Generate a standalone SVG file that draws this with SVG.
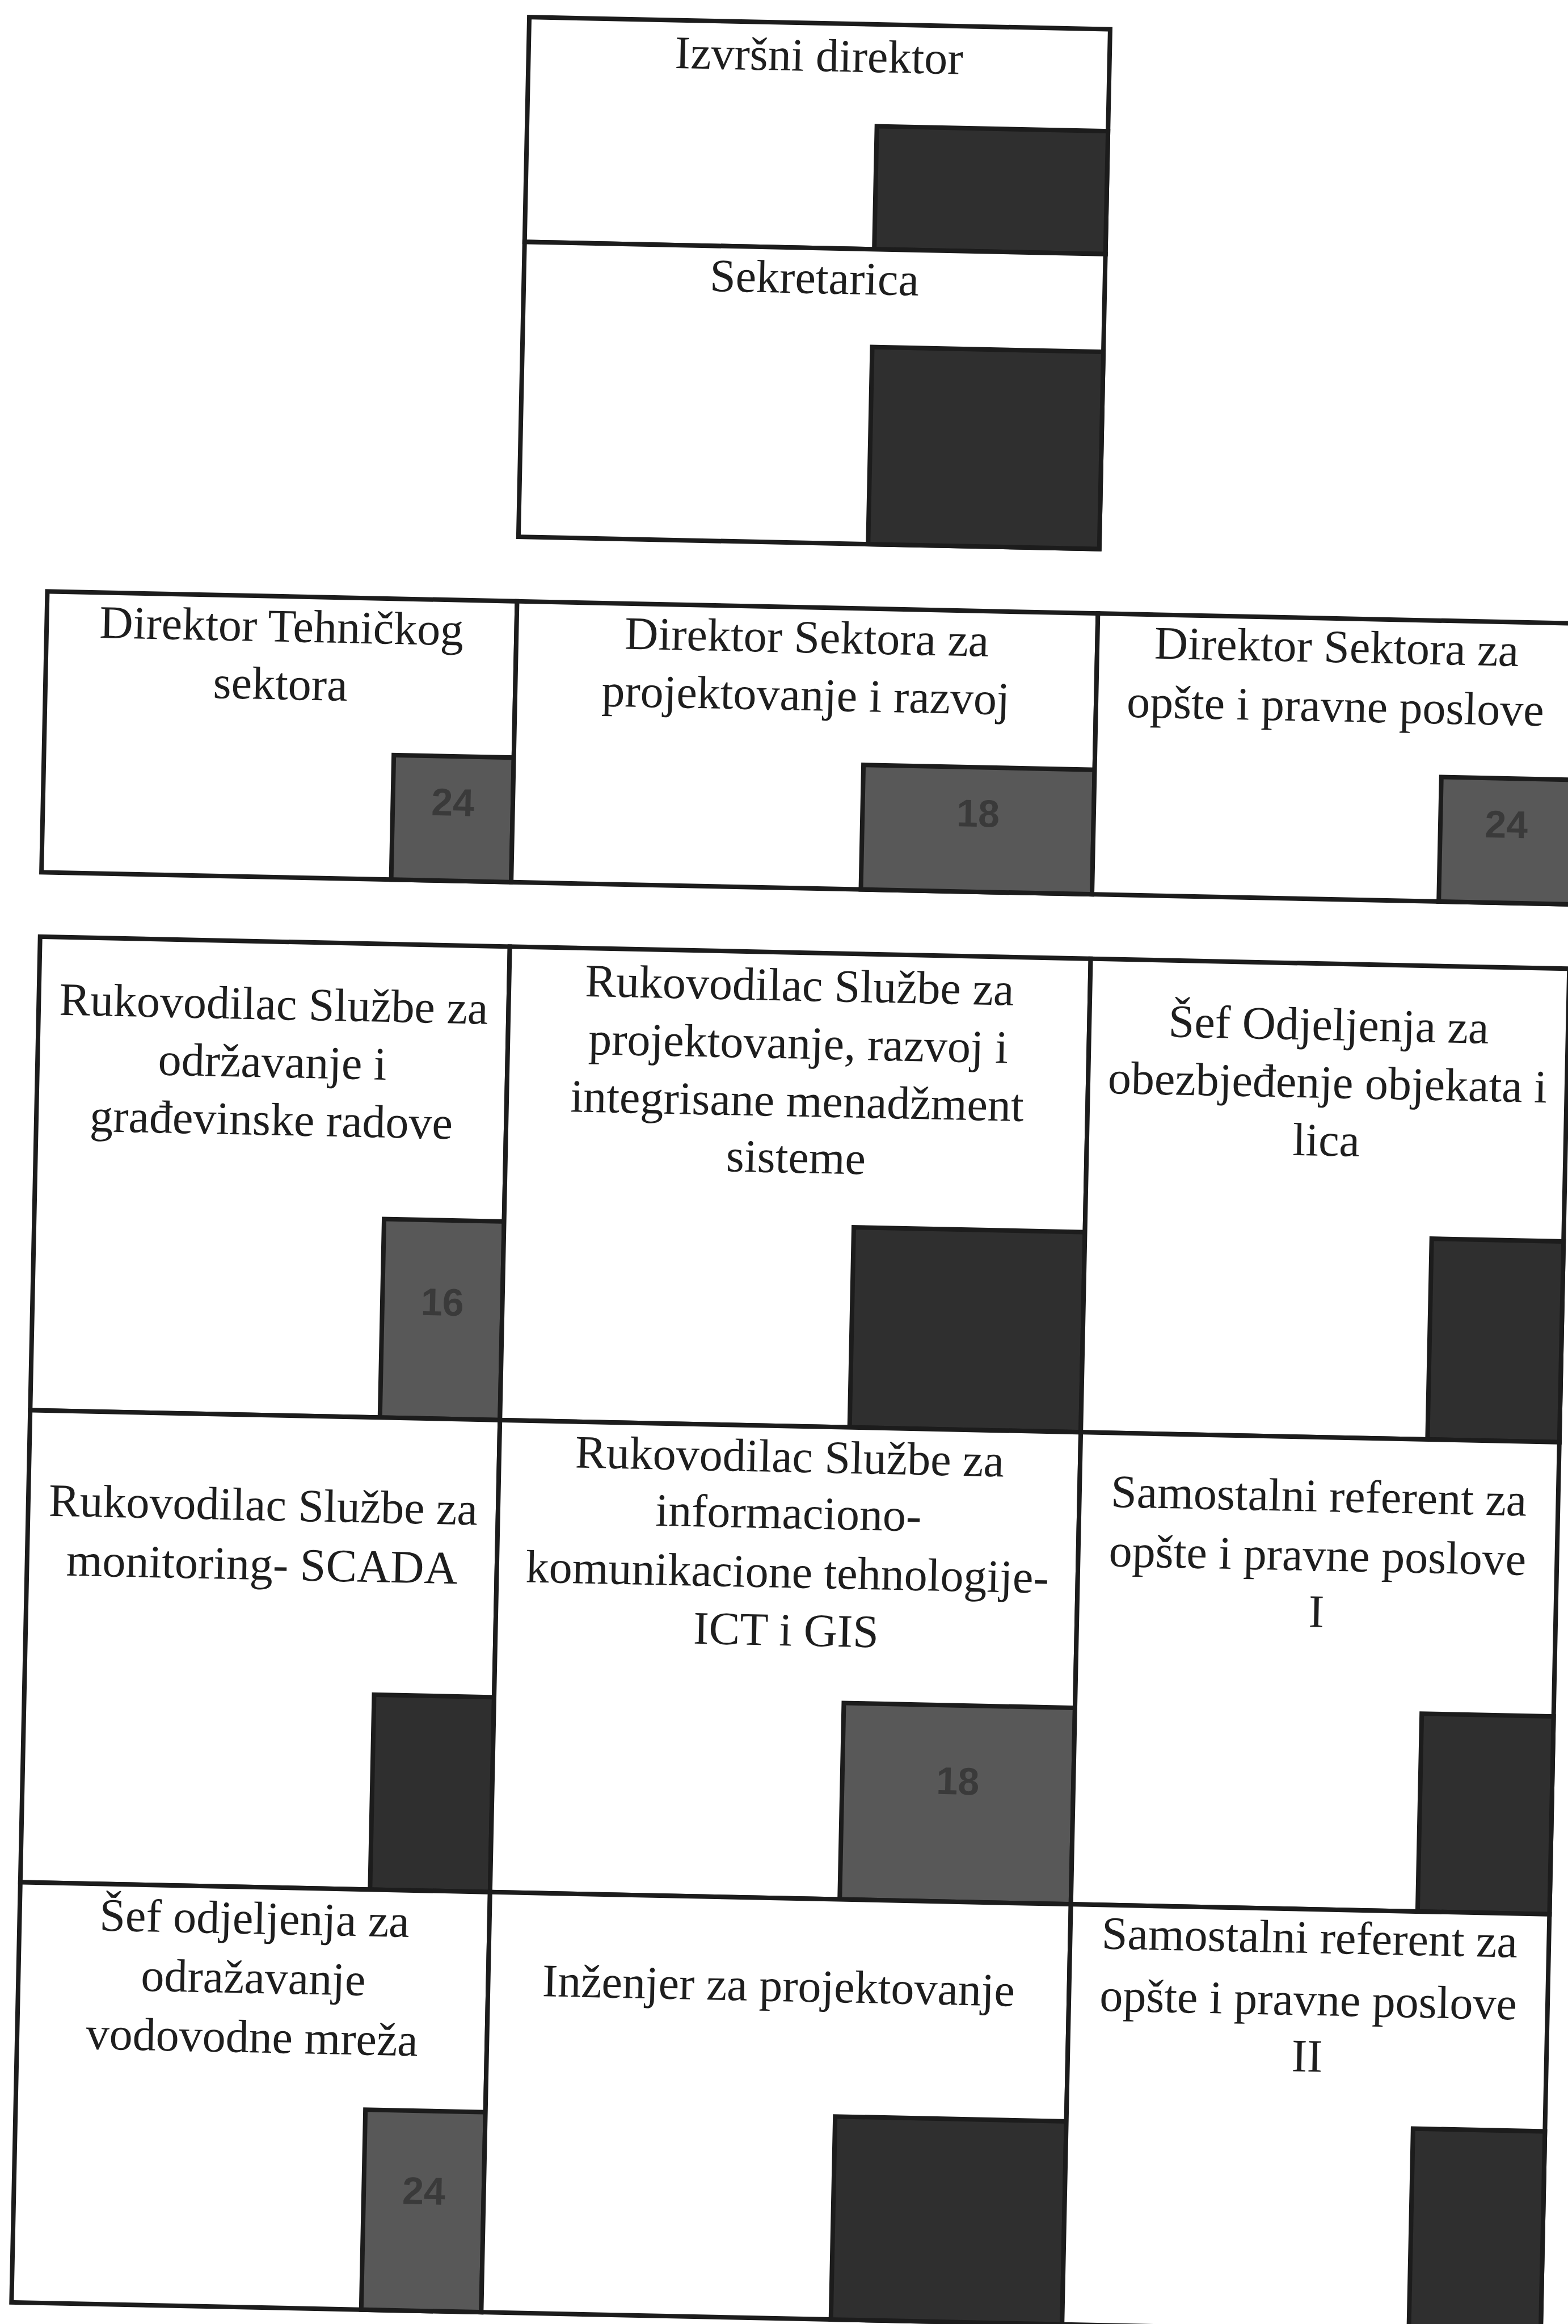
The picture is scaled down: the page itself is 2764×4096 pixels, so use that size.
<svg xmlns="http://www.w3.org/2000/svg" width="2764" height="4096" viewBox="0 0 2764 4096">
<style>
.cell{fill:#ffffff;stroke:#1c1c1c;stroke-width:8}
.dark{fill:#2f2f2f;stroke:#1c1c1c;stroke-width:8}
.gray{fill:#585858;stroke:#1c1c1c;stroke-width:8}
.t{font-family:'Liberation Serif','Times New Roman',serif;font-size:82px;fill:#1e1e1e;text-anchor:middle}
.n{font-family:'Liberation Sans',Arial,sans-serif;font-weight:bold;font-size:68px;fill:#3a3a3a;text-anchor:middle}
</style>
<rect x="0" y="0" width="2764" height="4096" fill="#ffffff"/>
<g id="chart" transform="rotate(1.2 1382 2048)">
  <g id="izvrsni-direktor">
    <rect class="cell" x="890.9" y="40" width="1024.1" height="396.3"/>
    <rect class="dark" x="1507.4" y="219.5" width="407.6" height="216.8"/>
    <text class="t" x="1402.9" y="124.4">Izvršni direktor</text>
  </g>
  <g id="sekretarica">
    <rect class="cell" x="890.9" y="436.3" width="1024.1" height="519.9"/>
    <rect class="dark" x="1507.4" y="608.7" width="407.6" height="347.5"/>
    <text class="t" x="1402.9" y="516.2">Sekretarica</text>
  </g>

  <g id="direktor-tehnickog-sektora">
    <rect class="cell" x="62.7" y="1069.8" width="828.2" height="495.1"/>
    <rect class="gray" x="679.3" y="1345.4" width="211.6" height="219.5"/>
    <text class="n" x="785.1" y="1450">24</text>
    <text class="t" x="476.8" y="1149.5">Direktor Tehničkog</text>
    <text class="t" x="476.8" y="1251.4">sektora</text>
  </g>
  <g id="direktor-sektora-projektovanje">
    <rect class="cell" x="890.9" y="1069.8" width="1024.1" height="495.1"/>
    <rect class="gray" x="1507.4" y="1345.4" width="407.6" height="219.5"/>
    <text class="n" x="1711.2" y="1450">18</text>
    <text class="t" x="1402.9" y="1149.5">Direktor Sektora za</text>
    <text class="t" x="1402.9" y="1251.4">projektovanje i razvoj</text>
  </g>
  <g id="direktor-sektora-opste">
    <rect class="cell" x="1915" y="1069.8" width="843.8" height="495.1"/>
    <rect class="gray" x="2526.3" y="1345.4" width="232.5" height="219.5"/>
    <text class="n" x="2642.5" y="1450">24</text>
    <text class="t" x="2336.9" y="1147">Direktor Sektora za</text>
    <text class="t" x="2336.9" y="1251.4">opšte i pravne poslove</text>
  </g>

  <g id="rukovodilac-odrzavanje">
    <rect class="cell" x="62.7" y="1678.5" width="828.2" height="834.7"/>
    <rect class="gray" x="679.3" y="2163.2" width="211.6" height="350"/>
    <text class="n" x="785.1" y="2331">16</text>
    <text class="t" x="476.8" y="1815.7">Rukovodilac Službe za</text>
    <text class="t" x="476.8" y="1917.6">održavanje i</text>
    <text class="t" x="476.8" y="2019.5">građevinske radove</text>
  </g>
  <g id="rukovodilac-projektovanje">
    <rect class="cell" x="890.9" y="1678.5" width="1024.1" height="834.7"/>
    <rect class="dark" x="1507.4" y="2160.5" width="407.6" height="352.7"/>
    <text class="t" x="1402.9" y="1763.4">Rukovodilac Službe za</text>
    <text class="t" x="1402.9" y="1865.3">projektovanje, razvoj i</text>
    <text class="t" x="1402.9" y="1967.2">integrisane menadžment</text>
    <text class="t" x="1402.9" y="2066.5">sisteme</text>
  </g>
  <g id="sef-obezbjedenje">
    <rect class="cell" x="1915" y="1678.5" width="843.8" height="834.7"/>
    <rect class="dark" x="2526.3" y="2159.2" width="232.5" height="354"/>
    <text class="t" x="2336.9" y="1813.1">Šef Odjeljenja za</text>
    <text class="t" x="2336.9" y="1915">obezbjeđenje objekata i</text>
    <text class="t" x="2336.9" y="2016.9">lica</text>
  </g>

  <g id="rukovodilac-scada">
    <rect class="cell" x="62.7" y="2513.2" width="828.2" height="832.1"/>
    <rect class="dark" x="679.3" y="3001.8" width="211.6" height="343.5"/>
    <text class="t" x="476.8" y="2698.7">Rukovodilac Službe za</text>
    <text class="t" x="476.8" y="2803.2">monitoring- SCADA</text>
  </g>
  <g id="rukovodilac-ict">
    <rect class="cell" x="890.9" y="2513.2" width="1024.1" height="832.1"/>
    <rect class="gray" x="1507.4" y="2999.1" width="407.6" height="346.2"/>
    <text class="n" x="1711.2" y="3156">18</text>
    <text class="t" x="1402.9" y="2594.2">Rukovodilac Službe za</text>
    <text class="t" x="1402.9" y="2693.5">informaciono-</text>
    <text class="t" x="1402.9" y="2797.9">komunikacione tehnologije-</text>
    <text class="t" x="1402.9" y="2899.9">ICT i GIS</text>
  </g>
  <g id="samostalni-referent-1">
    <rect class="cell" x="1915" y="2513.2" width="843.8" height="832.1"/>
    <rect class="dark" x="2526.3" y="2996.5" width="232.5" height="348.8"/>
    <text class="t" x="2336.9" y="2643.9">Samostalni referent za</text>
    <text class="t" x="2336.9" y="2748.4">opšte i pravne poslove</text>
    <text class="t" x="2336.9" y="2847.6">I</text>
  </g>

  <g id="sef-vodovodne-mreze">
    <rect class="cell" x="62.7" y="3345.3" width="828.2" height="740.6"/>
    <rect class="gray" x="679.3" y="3733.3" width="211.6" height="352.6"/>
    <text class="n" x="785.1" y="3898">24</text>
    <text class="t" x="476.8" y="3427.6">Šef odjeljenja za</text>
    <text class="t" x="476.8" y="3532.1">odražavanje</text>
    <text class="t" x="476.8" y="3636.6">vodovodne mreža</text>
  </g>
  <g id="inzenjer-projektovanje">
    <rect class="cell" x="890.9" y="3345.3" width="1024.1" height="740.6"/>
    <rect class="dark" x="1507.4" y="3728" width="407.6" height="357.9"/>
    <text class="t" x="1402.9" y="3526.9">Inženjer za projektovanje</text>
  </g>
  <g id="samostalni-referent-2">
    <rect class="cell" x="1915" y="3345.3" width="843.8" height="740.6"/>
    <rect class="dark" x="2526.3" y="3728" width="232.5" height="357.9"/>
    <text class="t" x="2336.9" y="3422.4">Samostalni referent za</text>
    <text class="t" x="2336.9" y="3532.1">opšte i pravne poslove</text>
    <text class="t" x="2336.9" y="3631.4">II</text>
  </g>
  <g id="connectors"/>
</g>
</svg>
